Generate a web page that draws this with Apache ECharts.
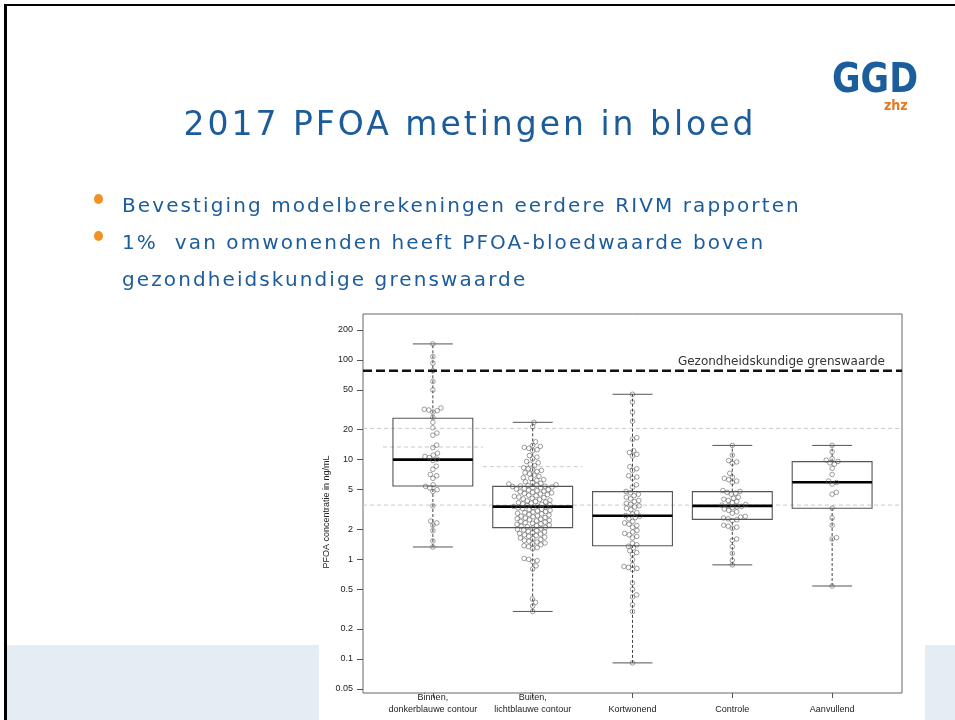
<!DOCTYPE html>
<html><head><meta charset="utf-8">
<script src="https://cdn.jsdelivr.net/npm/echarts@6/dist/echarts.min.js"></script>
<style>
html,body{margin:0;padding:0;background:#fff;}
#page{position:relative;width:955px;height:720px;overflow:hidden;background:#fff;}
#chart{position:absolute;left:0;top:0;width:955px;height:720px;z-index:2;}
.abs{position:absolute;white-space:nowrap;font-family:"DejaVu Sans",sans-serif;z-index:3;}
.blue{color:#1d5c9a;}
.dot{position:absolute;width:9px;height:10px;border-radius:50%;background:#f39020;z-index:3;}
</style></head><body>
<div id="page">
  <div style="position:absolute;left:7px;top:645px;width:948px;height:75px;background:#e5edf4;z-index:0;"></div>
  <div style="position:absolute;left:319px;top:600px;width:606px;height:120px;background:#fff;z-index:1;"></div>
  <div style="position:absolute;left:4px;top:4px;width:951px;height:2px;background:#000;z-index:4;"></div>
  <div style="position:absolute;left:4px;top:4px;width:3px;height:716px;background:#000;z-index:4;"></div>
  <div id="chart"></div>
  <div class="abs blue" style="left:0;width:940px;text-align:center;top:107px;font-size:33px;line-height:33px;letter-spacing:3px;">2017 PFOA metingen in bloed</div>
  <div class="dot" style="left:94px;top:194px;"></div>
  <div class="dot" style="left:94px;top:231px;"></div>
  <div class="abs blue" style="left:122px;top:195px;font-size:20px;line-height:20px;letter-spacing:2.1px;">Bevestiging modelberekeningen eerdere RIVM rapporten</div>
  <div class="abs blue" style="left:122px;top:232px;font-size:20px;line-height:20px;letter-spacing:2.1px;">1%&nbsp; van omwonenden heeft PFOA-bloedwaarde boven</div>
  <div class="abs blue" style="left:122px;top:269px;font-size:20px;line-height:20px;letter-spacing:2.1px;">gezondheidskundige grenswaarde</div>
  <div class="abs" style="left:832px;top:58px;font-size:41px;line-height:41px;font-weight:bold;color:#1b5e9b;transform:scaleX(0.85);transform-origin:0 0;">GGD</div>
  <div class="abs" style="left:884px;top:98px;font-size:14px;line-height:14px;font-weight:bold;color:#e8781e;transform:scaleX(0.9);transform-origin:0 0;">zhz</div>
</div>
<script>
// ---------- data ----------
const categories = ['Binnen,\ndonkerblauwe contour', 'Buiten,\nlichtblauwe contour', 'Kortwonend', 'Controle', 'Aanvullend'];
const boxMin    = [1.33, 0.30, 0.0914, 0.88, 0.54];
const boxQ1     = [5.45, 2.08, 1.37, 2.52, 3.26];
const boxMedian = [10.0, 3.38, 2.74, 3.44, 5.93];
const boxQ3     = [26.0, 5.4, 4.78, 4.78, 9.55];
const boxMax    = [145, 23.7, 45.3, 13.9, 13.9];

const pointsBinnen = [145, 108, 93, 78, 61, 50, 33, 32, 31.5, 31, 30, 26.6, 23.7, 20.9, 18.5, 17.6, 14.0, 13.2,
  11.6, 11.1, 10.8, 10.5, 10.1, 9.8, 8.6, 8.0, 7.1, 6.9, 6.5, 5.6, 5.4, 5.2, 5.0, 4.8, 3.44, 2.42, 2.32, 2.2, 1.94, 1.53, 1.33];
const pointsBuiten = [23.7, 21.4, 15.1, 13.9, 13.6, 13.3, 13.0, 12.6, 12.3, 11.0, 10.6, 10.2, 9.6, 9.3, 9.0, 8.7,
  8.3, 8.1, 7.9, 7.8, 7.6, 7.4, 7.2, 7.0, 6.8, 6.6, 6.5, 6.3, 6.2, 6.0, 5.9, 5.8, 5.7, 5.6, 5.55, 5.5, 5.45, 5.42,
  5.38, 5.32, 5.26, 5.2, 5.13, 5.07, 5.01, 4.95, 4.88, 4.82, 4.76, 4.7, 4.64, 4.58, 4.52, 4.46, 4.4, 4.34, 4.28,
  4.22, 4.16, 4.1, 4.04, 3.98, 3.92, 3.86, 3.81, 3.76, 3.71, 3.66, 3.61, 3.56, 3.52, 3.47, 3.43, 3.39,
  3.36, 3.32, 3.28, 3.23, 3.19, 3.15, 3.1, 3.06, 3.02, 2.98, 2.94, 2.9, 2.86, 2.82, 2.78, 2.74, 2.71, 2.67, 2.63,
  2.6, 2.56, 2.53, 2.49, 2.46, 2.43, 2.4, 2.36, 2.33, 2.3, 2.27, 2.24, 2.21, 2.18, 2.15, 2.12, 2.09,
  2.06, 2.03, 2.0, 1.97, 1.94, 1.91, 1.88, 1.85, 1.82, 1.79, 1.76, 1.73, 1.7, 1.67, 1.64, 1.61, 1.58, 1.55, 1.52,
  1.49, 1.46, 1.43, 1.4, 1.37, 1.34, 1.31, 1.28, 1.02, 1.0, 0.97, 0.95, 0.86, 0.8, 0.4, 0.37, 0.34, 0.3];
const pointsKortwonend = [45.3, 37.9, 30, 24.3, 16.6, 16.0, 12.3, 11.8, 11.3, 10.9, 8.5, 8.1, 7.8, 6.9, 6.7, 6.5,
  5.6, 5.3, 4.8, 4.65, 4.5, 4.35, 4.2, 4.05, 3.9, 3.8, 3.65, 3.55, 3.45, 3.35, 3.25, 3.15, 2.95, 2.85, 2.75, 2.7,
  2.62, 2.55, 2.4, 2.32, 2.25, 2.18, 2.1, 1.95, 1.88, 1.82, 1.76, 1.7, 1.64, 1.45, 1.4, 1.35, 1.3, 1.22, 1.17, 1.12,
  0.99, 0.88, 0.85, 0.83, 0.81, 0.79, 0.58, 0.5, 0.44, 0.42, 0.35, 0.3, 0.0914];
const pointsControle = [13.9, 11.1, 9.8, 9.5, 9.2, 7.3, 6.7, 6.5, 6.3, 6.1, 5.9, 4.9, 4.8, 4.7, 4.6, 4.5, 4.2, 4.1,
  4.0, 3.9, 3.8, 3.7, 3.55, 3.5, 3.45, 3.4, 3.35, 3.3, 3.2, 3.1, 3.0, 2.9, 2.7, 2.65, 2.6, 2.55, 2.5, 2.45, 2.2,
  2.15, 2.1, 2.05, 1.6, 1.55, 1.34, 1.15, 0.98, 0.88];
const pointsAanvullend = [13.9, 12.0, 10.2, 9.9, 9.6, 9.3, 9.0, 8.2, 7.1, 6.1, 5.9, 5.7, 4.7, 4.5, 3.26, 2.6, 2.2,
  1.65, 1.6, 0.54];

const yTicks = [0.05, 0.1, 0.2, 0.5, 1, 2, 5, 10, 20, 50, 100, 200];
const yTickLabels = ['0.05', '0.1', '0.2', '0.5', '1', '2', '5', '10', '20', '50', '100', '200'];
const healthLimit = 78;
const healthLabel = 'Gezondheidskundige grenswaarde';
const refLinesFull = [20.6, 3.5];
const refLinesGroup = [13.4, 8.5]; // for group 1 and group 2
const yAxisName = 'PFOA concentratie in ng/mL';

// ---------- layout ----------
const GRID = {left: 363, top: 314, width: 539, height: 379};
const X_MIN = 0.3, X_MAX = 5.7;
const Y_MIN = -1.3411, Y_MAX = 2.4615;
const lg = Math.log10;
const pxPerX = GRID.width / (X_MAX - X_MIN);
function yPix(v) { return GRID.top + (Y_MAX - lg(v)) / (Y_MAX - Y_MIN) * GRID.height; }

function swarm(vals, d) {
  const ys = vals.map(yPix);
  const order = ys.map((y, i) => i).sort((a, b) => ys[b] - ys[a]);
  const placed = [];
  const xs = new Array(ys.length);
  for (const i of order) {
    const y = ys[i];
    const near = placed.filter(p => Math.abs(p.y - y) < d);
    const cands = [0];
    near.forEach(p => { const dx = Math.sqrt(d * d - (p.y - y) * (p.y - y)); cands.push(p.x + dx, p.x - dx); });
    cands.sort((a, b) => Math.abs(a) - Math.abs(b));
    let x = 0;
    for (const c of cands) {
      if (near.every(p => (p.x - c) * (p.x - c) + (p.y - y) * (p.y - y) >= d * d - 1e-6)) { x = c; break; }
    }
    xs[i] = x;
    placed.push({x: x, y: y});
  }
  return xs;
}

const groups = [pointsBinnen, pointsBuiten, pointsKortwonend, pointsControle, pointsAanvullend];
const scatterData = [];
groups.forEach((vals, gi) => {
  const offs = swarm(vals, 4.6);
  vals.forEach((v, k) => scatterData.push([gi + 1 + offs[k] / pxPerX, lg(v)]));
});

const boxData = categories.map((c, i) => [i + 1, lg(boxMin[i]), lg(boxQ1[i]), lg(boxMedian[i]), lg(boxQ3[i]), lg(boxMax[i])]);

function hLine(v, x0, x1, style, z) {
  return {type: 'line', data: [[x0, lg(v)], [x1, lg(v)]], symbol: 'none', silent: true, z: z,
    lineStyle: style, animation: false};
}

const series = [];
refLinesFull.forEach(v => series.push(hLine(v, X_MIN, X_MAX, {color: '#c8c8c8', width: 1, type: [4, 3]}, 1)));
refLinesGroup.forEach((v, i) => series.push(hLine(v, i + 0.5, i + 1.5, {color: '#c8c8c8', width: 1, type: [4, 3]}, 1)));
series.push(hLine(healthLimit, X_MIN, X_MAX, {color: '#111', width: 2.6, type: [9, 4]}, 4));
series.push({
  type: 'custom', data: boxData, z: 2, animation: false, silent: true,
  encode: {x: 0, y: [1, 2, 3, 4, 5]},
  renderItem: function (params, api) {
    const x = api.value(0);
    const pMin = api.coord([x, api.value(1)]), pQ1 = api.coord([x, api.value(2)]),
      pMed = api.coord([x, api.value(3)]), pQ3 = api.coord([x, api.value(4)]), pMax = api.coord([x, api.value(5)]);
    const hb = api.size([0.4, 0])[0], hc = api.size([0.2, 0])[0];
    const cx = pMed[0];
    const dash = {stroke: '#444', lineWidth: 1, lineDash: [3, 2]};
    const solid = {stroke: '#555', lineWidth: 1};
    return {type: 'group', children: [
      {type: 'line', shape: {x1: cx, y1: pMin[1], x2: cx, y2: pQ1[1]}, style: dash},
      {type: 'line', shape: {x1: cx, y1: pQ3[1], x2: cx, y2: pMax[1]}, style: dash},
      {type: 'line', shape: {x1: cx - hc, y1: pMin[1], x2: cx + hc, y2: pMin[1]}, style: solid},
      {type: 'line', shape: {x1: cx - hc, y1: pMax[1], x2: cx + hc, y2: pMax[1]}, style: solid},
      {type: 'rect', shape: {x: cx - hb, y: pQ3[1], width: 2 * hb, height: pQ1[1] - pQ3[1]},
        style: {fill: 'transparent', stroke: '#555', lineWidth: 1.1}},
      {type: 'line', shape: {x1: cx - hb, y1: pMed[1], x2: cx + hb, y2: pMed[1]}, style: {stroke: '#000', lineWidth: 2.6}}
    ]};
  }
});
series.push({
  type: 'scatter', data: scatterData, symbol: 'circle', symbolSize: 4.6, z: 3, animation: false, silent: true,
  itemStyle: {color: 'rgba(255,255,255,0)', borderColor: '#555', borderWidth: 0.7}
});

const chart = echarts.init(document.getElementById('chart'));
chart.setOption({
  animation: false,
  grid: {left: GRID.left, top: GRID.top, width: GRID.width, height: GRID.height, show: true,
    borderColor: '#666', borderWidth: 1, backgroundColor: 'transparent'},
  xAxis: {
    type: 'value', min: X_MIN, max: X_MAX, position: 'bottom',
    axisLine: {show: false, onZero: false}, splitLine: {show: false},
    axisTick: {show: true, customValues: [1, 2, 3, 4, 5], length: 5, lineStyle: {color: '#555'}},
    axisLabel: {customValues: [1, 2, 3, 4, 5], formatter: v => categories[Math.round(v) - 1],
      fontSize: 9, lineHeight: 12, color: '#222', fontFamily: 'Liberation Sans, Arial, sans-serif',
      margin: 23, verticalAlign: 'bottom'}
  },
  yAxis: {
    type: 'value', min: Y_MIN, max: Y_MAX,
    axisLine: {show: false, onZero: false}, splitLine: {show: false},
    axisTick: {show: true, customValues: yTicks.map(lg), length: 6, lineStyle: {color: '#555'}},
    axisLabel: {customValues: yTicks.map(lg), fontSize: 9, color: '#222',
      fontFamily: 'Liberation Sans, Arial, sans-serif', margin: 10,
      formatter: v => { let best = 0; yTicks.forEach((t, i) => { if (Math.abs(lg(t) - v) < Math.abs(lg(yTicks[best]) - v)) best = i; }); return yTickLabels[best]; }}
  },
  graphic: [
    {type: 'text', x: 885, y: 362, style: {text: healthLabel, fontSize: 12, fill: '#333', fontFamily: 'DejaVu Sans',
      align: 'right', verticalAlign: 'middle'}},
    {type: 'text', x: 327, y: 512, rotation: Math.PI / 2, style: {text: yAxisName, fontSize: 9, fill: '#222',
      fontFamily: 'Liberation Sans, Arial, sans-serif', align: 'center', verticalAlign: 'middle'}}
  ],
  series: series
});
</script>
</body></html>
